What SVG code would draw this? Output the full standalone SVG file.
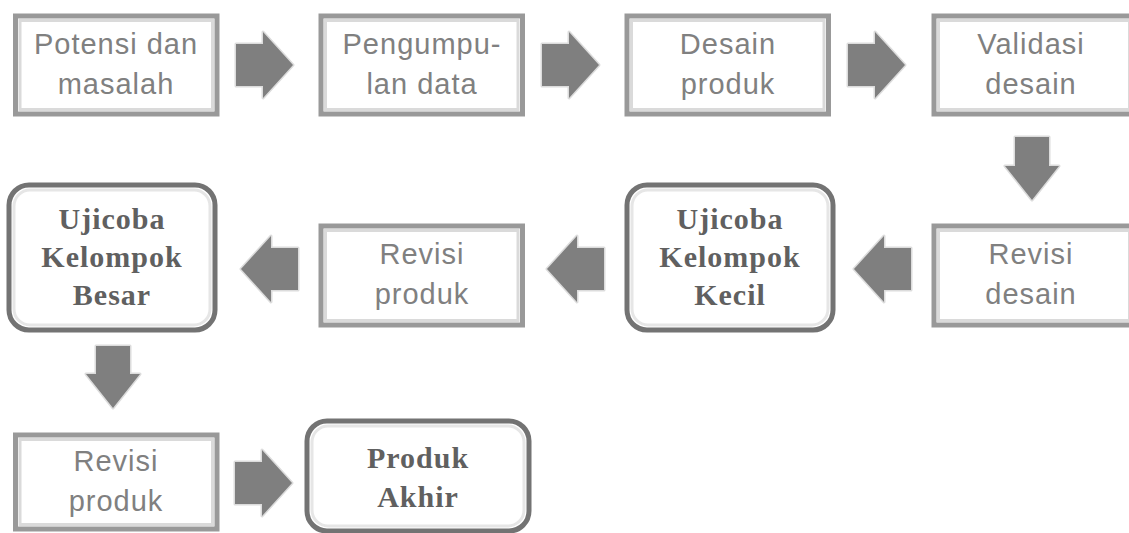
<svg xmlns="http://www.w3.org/2000/svg" width="1129" height="533" viewBox="0 0 1129 533">
<style>
.bx{fill:#fff;stroke:#999999;stroke-width:5}
.bxi{fill:none;stroke:#dadada;stroke-width:3}
.rb{fill:#fff;stroke:#737373;stroke-width:5}
.rbi{fill:none;stroke:#e6e6e6;stroke-width:3}
.t{font-family:"Liberation Sans",Arial,sans-serif;font-size:29px;letter-spacing:1px;fill:#808080;text-anchor:middle}
.b{font-family:"Liberation Serif","Times New Roman",serif;font-size:30px;font-weight:bold;letter-spacing:1px;fill:#606060;text-anchor:middle}
.ar{fill:#7f7f7f;stroke:#dcdcdc;stroke-width:3;paint-order:stroke;stroke-linejoin:round}
</style>
<rect width="1129" height="533" fill="#fff"/>
<g id="connectors">
<polygon class="ar" points="236,44 263,44 263,32 293,65 263,98 263,86 236,86"/>
<polygon class="ar" points="542,44 569,44 569,32 599,65 569,98 569,86 542,86"/>
<polygon class="ar" points="848,44 875,44 875,32 905,65 875,98 875,86 848,86"/>
<polygon class="ar" points="1015,137 1049,137 1049,166 1059,166 1032,200 1005,166 1015,166"/>
<polygon class="ar" points="911,248 884,248 884,236 854,269 884,302 884,290 911,290"/>
<polygon class="ar" points="604,248 577,248 577,236 547,269 577,302 577,290 604,290"/>
<polygon class="ar" points="298,248 271,248 271,236 241,269 271,302 271,290 298,290"/>
<polygon class="ar" points="96,346 130,346 130,374 140,374 113,408 86,374 96,374"/>
<polygon class="ar" points="235,462 262,462 262,450 292,483 262,516 262,504 235,504"/>
</g>
<g id="n1">
<rect class="bx" x="15.5" y="16" width="201.5" height="98"/>
<rect class="bxi" x="20" y="20.5" width="192.5" height="89"/>
<text class="t" x="116" y="54">Potensi dan</text>
<text class="t" x="116" y="94">masalah</text>
</g>
<g id="n2">
<rect class="bx" x="321" y="16" width="201.5" height="98"/>
<rect class="bxi" x="325.5" y="20.5" width="192.5" height="89"/>
<text class="t" x="422" y="54">Pengumpu-</text>
<text class="t" x="422" y="94">lan data</text>
</g>
<g id="n3">
<rect class="bx" x="627" y="16" width="201.5" height="98"/>
<rect class="bxi" x="631.5" y="20.5" width="192.5" height="89"/>
<text class="t" x="728" y="54">Desain</text>
<text class="t" x="728" y="94">produk</text>
</g>
<g id="n4">
<rect class="bx" x="934" y="16" width="200" height="98"/>
<rect class="bxi" x="938.5" y="20.5" width="191" height="89"/>
<text class="t" x="1031" y="54">Validasi</text>
<text class="t" x="1031" y="94">desain</text>
</g>
<g id="n5">
<rect class="bx" x="934" y="226" width="200" height="99"/>
<rect class="bxi" x="938.5" y="230.5" width="191" height="90"/>
<text class="t" x="1031" y="264">Revisi</text>
<text class="t" x="1031" y="304">desain</text>
</g>
<g id="n6">
<rect class="rb" x="627" y="185" width="206" height="145" rx="20"/>
<rect class="rbi" x="632" y="190" width="196" height="135" rx="16"/>
<text class="b" x="730" y="229">Ujicoba</text>
<text class="b" x="730" y="267">Kelompok</text>
<text class="b" x="730" y="305">Kecil</text>
</g>
<g id="n7">
<rect class="bx" x="321" y="226" width="201.5" height="99"/>
<rect class="bxi" x="325.5" y="230.5" width="192.5" height="90"/>
<text class="t" x="422" y="264">Revisi</text>
<text class="t" x="422" y="304">produk</text>
</g>
<g id="n8">
<rect class="rb" x="9" y="185" width="206" height="145" rx="20"/>
<rect class="rbi" x="14" y="190" width="196" height="135" rx="16"/>
<text class="b" x="112" y="229">Ujicoba</text>
<text class="b" x="112" y="267">Kelompok</text>
<text class="b" x="112" y="305">Besar</text>
</g>
<g id="n9">
<rect class="bx" x="15.5" y="435" width="201.5" height="94"/>
<rect class="bxi" x="20" y="439.5" width="192.5" height="85"/>
<text class="t" x="116" y="471">Revisi</text>
<text class="t" x="116" y="511">produk</text>
</g>
<g id="n10">
<rect class="rb" x="307" y="421" width="222" height="110" rx="20"/>
<rect class="rbi" x="312" y="426" width="212" height="100" rx="16"/>
<text class="b" x="418" y="468">Produk</text>
<text class="b" x="418" y="507">Akhir</text>
</g>
</svg>
